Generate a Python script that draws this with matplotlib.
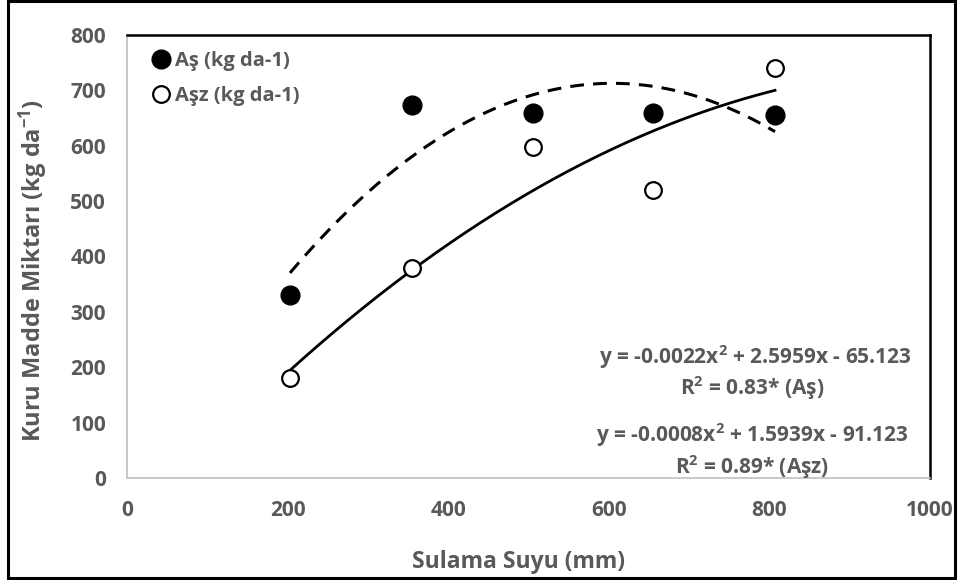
import numpy as np
import matplotlib
matplotlib.use("Agg")
import matplotlib.pyplot as plt
from matplotlib.patches import Rectangle

# Data
x_vals = [203, 355, 506, 655, 807]
as_vals = [330, 673, 659, 659, 655]
asz_vals = [180, 379, 597, 520, 740]
x_ticks = [0, 200, 400, 600, 800, 1000]
y_ticks = [0, 100, 200, 300, 400, 500, 600, 700, 800]
label_as = "Aş (kg da-1)"
label_asz = "Aşz (kg da-1)"
eq_as = ["y = -0.0022x$^{2}$ + 2.5959x - 65.123", "R$^{2}$ = 0.83* (Aş)"]
eq_asz = ["y = -0.0008x$^{2}$ + 1.5939x - 91.123", "R$^{2}$ = 0.89* (Aşz)"]

FONT = 'Open Sans'
plt.rcParams['font.family'] = [FONT, 'DejaVu Sans']
plt.rcParams['mathtext.fontset'] = 'custom'
plt.rcParams['mathtext.rm'] = FONT + ':bold'
plt.rcParams['mathtext.it'] = FONT + ':bold'
plt.rcParams['mathtext.bf'] = FONT + ':bold'

gray = '#595959'
W, H = 960, 580
fig = plt.figure(figsize=(9.6, 5.8), dpi=100)
ax = fig.add_axes([127/W, 1-478/H, (930-127)/W, (478-35)/H])

def fx(px):
    return px / W

def fy(py):
    return 1 - py / H

# frame around figure
fig.patches.append(Rectangle((fx(8), fy(578)), fx(955) - fx(8), fy(1) - fy(578), transform=fig.transFigure,
                             fill=False, edgecolor='black', linewidth=2.2))

xs = np.array(x_vals, dtype=float)
xx = np.linspace(xs.min(), xs.max(), 200)
c1 = np.polyfit(xs, as_vals, 2)
c2 = np.polyfit(xs, asz_vals, 2)
ax.plot(xx, np.polyval(c1, xx), color='black', lw=2.2, linestyle=(0, (4.5, 3)))
ax.plot(xx, np.polyval(c2, xx), color='black', lw=2.0)

ax.plot(x_vals, as_vals, 'o', color='black', markersize=13.5, linestyle='none', label=label_as, zorder=5)
ax.plot(x_vals, asz_vals, 'o', markerfacecolor='white', markeredgecolor='black', markeredgewidth=1.6,
        markersize=12, linestyle='none', label=label_asz, zorder=5)

ax.set_xlim(0, 1000)
ax.set_ylim(0, 800)
ax.set_xticks(x_ticks)
ax.set_yticks(y_ticks)
ax.tick_params(length=0, labelsize=15, labelcolor=gray)
ax.tick_params(axis='y', pad=15)
ax.tick_params(axis='x', pad=16)
for lab in ax.get_xticklabels() + ax.get_yticklabels():
    lab.set_fontweight('bold')

for s in ['top', 'right']:
    ax.spines[s].set_color('black')
    ax.spines[s].set_linewidth(1.8)
for s in ['left', 'bottom']:
    ax.spines[s].set_color('#BFBFBF')
    ax.spines[s].set_linewidth(1.2)

fig.text(fx(518), fy(562), 'Sulama Suyu (mm)', fontsize=16.5, fontweight='bold', color=gray,
         ha='center', va='center')
fig.text(fx(33), fy(270), 'Kuru Madde Miktarı (kg da$^{-1}$)', fontsize=17, fontweight='bold', color=gray,
         ha='center', va='center', rotation=90)

leg = ax.legend(loc='upper left', bbox_to_anchor=(fx(149), fy(51)), bbox_transform=fig.transFigure,
                frameon=False, fontsize=14.5, borderpad=0, borderaxespad=0,
                handletextpad=0.1, labelspacing=0.75, handlelength=1.2)
for t in leg.get_texts():
    t.set_color(gray)
    t.set_fontweight('bold')

kw = dict(ha='center', va='center', fontsize=15, fontweight='bold', color=gray)
fig.text(fx(755), fy(357), eq_as[0], **kw)
fig.text(fx(752), fy(388), eq_as[1], **kw)
fig.text(fx(752), fy(435), eq_asz[0], **kw)
fig.text(fx(752), fy(467), eq_asz[1], **kw)

fig.savefig('out.png', dpi=100)
